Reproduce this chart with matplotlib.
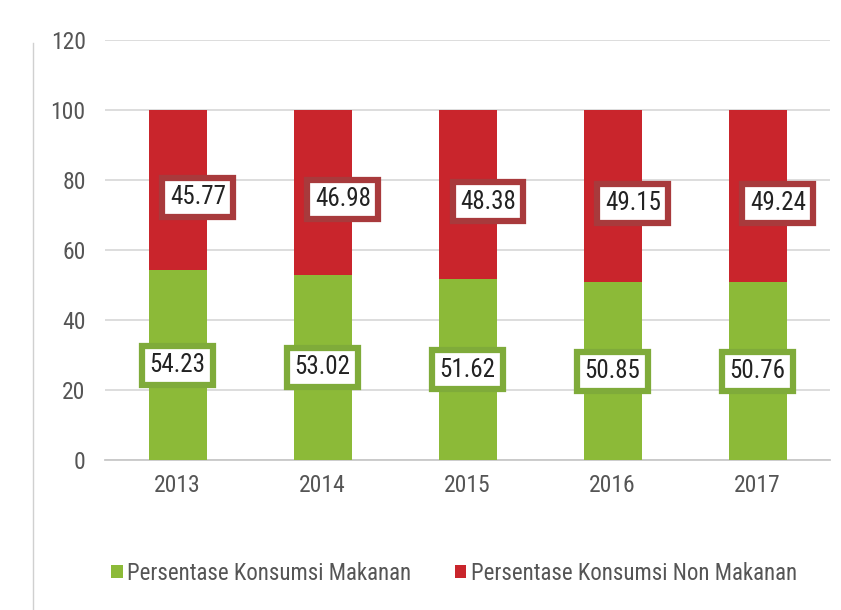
import matplotlib.pyplot as plt
import numpy as np
from matplotlib.lines import Line2D

plt.rcParams['font.family'] = ['Roboto Condensed', 'DejaVu Sans']

years = ['2013', '2014', '2015', '2016', '2017']
makanan = [54.23, 53.02, 51.62, 50.85, 50.76]
non_makanan = [45.77, 46.98, 48.38, 49.15, 49.24]

green = '#8cba38'
red = '#c9252c'

fig = plt.figure(figsize=(8.41, 6.10), dpi=100)
ax = fig.add_axes([0.125, 0.246, 0.862, 0.688])

x = np.arange(len(years))
w = 0.40
ax.bar(x, makanan, w, color=green, label='Persentase Konsumsi Makanan', zorder=3)
ax.bar(x, non_makanan, w, bottom=makanan, color=red,
       label='Persentase Konsumsi Non Makanan', zorder=3)

# value labels in boxes
for i in range(len(years)):
    ax.text(x[i], makanan[i] / 2, f'{makanan[i]:.2f}', ha='center', va='center',
            fontsize=18, color='#222222', zorder=5,
            bbox=dict(boxstyle='square,pad=0.3', fc='white', ec='#7fab3a', lw=4.5))
    ax.text(x[i] + 0.14, makanan[i] + non_makanan[i] / 2 - 2, f'{non_makanan[i]:.2f}',
            ha='center', va='center', fontsize=18, color='#222222', zorder=5,
            bbox=dict(boxstyle='square,pad=0.3', fc='white', ec='#a83a3c', lw=4.5))

ax.set_xlim(-0.5, 4.5)
ax.set_ylim(0, 120)
ax.set_yticks(range(0, 121, 20))
ax.set_xticks(x)
ax.set_xticklabels(years)
ax.yaxis.grid(True, color='#dadada', lw=1.3, zorder=0)
ax.tick_params(axis='both', length=0, labelsize=17, labelcolor='#555555')
ax.tick_params(axis='y', pad=14)
ax.tick_params(axis='x', pad=10)
for s in ['top', 'right', 'left']:
    ax.spines[s].set_visible(False)
ax.spines['bottom'].set_color('#c8c8c8')
ax.spines['bottom'].set_linewidth(1.3)

ax.legend(loc='center', bbox_to_anchor=(0.54, 0.06), bbox_transform=fig.transFigure,
          ncol=2, frameon=False, fontsize=16.5, handlelength=0.5, handleheight=0.5,
          handletextpad=0.2, columnspacing=1.9, labelcolor='#555555')

fig.add_artist(Line2D([0.039, 0.039], [0.0, 0.93], color='#d0d0d0', lw=1,
                      transform=fig.transFigure))

fig.savefig('out.png', dpi=100)
